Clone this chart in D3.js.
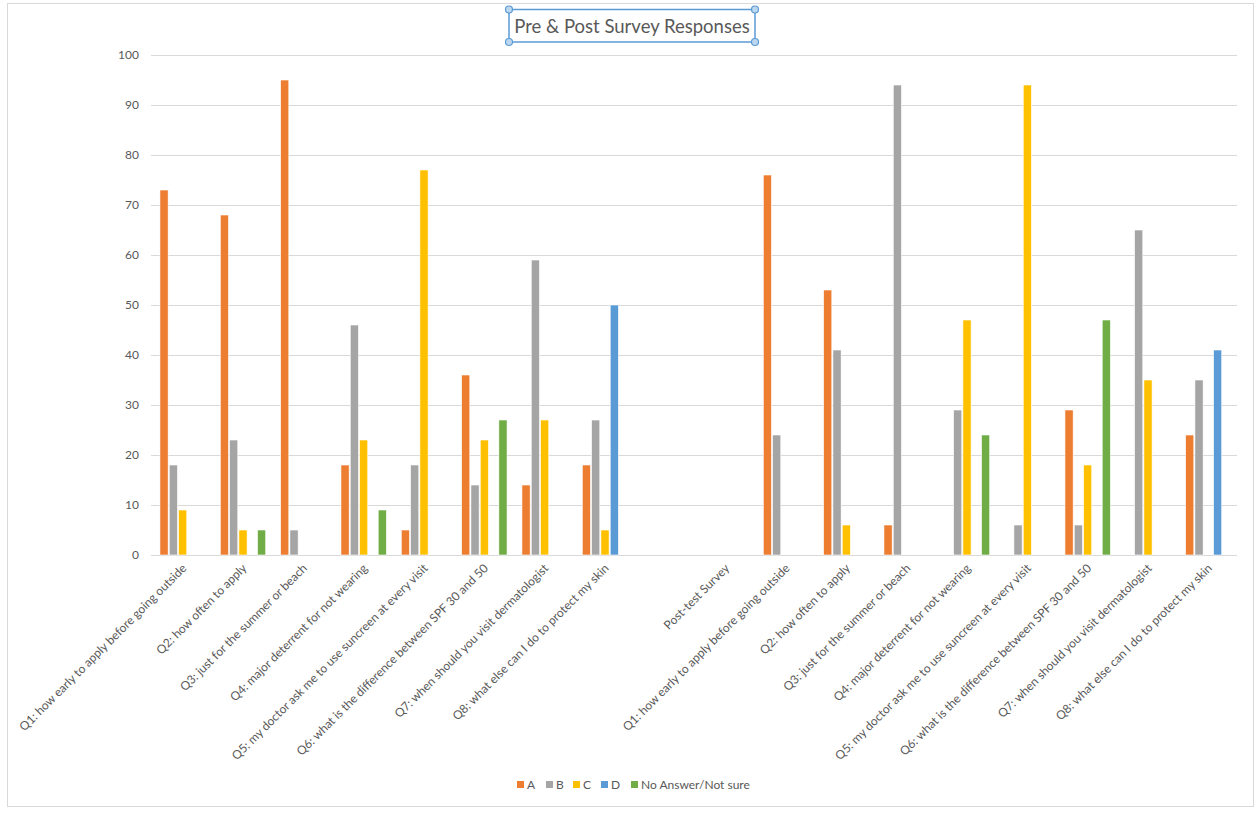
<!DOCTYPE html>
<html>
<head>
<meta charset="utf-8">
<script src="https://cdn.jsdelivr.net/npm/d3@7"></script>
<style>
  body { margin: 0; background: #fff; }
  text { font-family: Lato, "Open Sans", sans-serif; fill: #595959; }
</style>
</head>
<body>
<svg id="chart" width="1259" height="815"></svg>
<script>
// categories, pre block, blank spacer, post header, post block
const categories = [
  "Q1: how early to apply before going outside",
  "Q2: how often to apply",
  "Q3: just for the summer or beach",
  "Q4: major deterrent for not wearing",
  "Q5: my doctor ask me to use suncreen at every visit",
  "Q6: what is the difference between SPF 30 and 50",
  "Q7: when should you visit dermatologist",
  "Q8: what else can I do to protect my skin",
  "",
  "Post-test  Survey",
  "Q1: how early to apply before going outside",
  "Q2: how often to apply",
  "Q3: just for the summer or beach",
  "Q4: major deterrent for not wearing",
  "Q5: my doctor ask me to use suncreen at every visit",
  "Q6: what is the difference between SPF 30 and 50",
  "Q7: when should you visit dermatologist",
  "Q8: what else can I do to protect my skin"
];
const seriesNames = ["A", "B", "C", "D", "No Answer/Not sure"];
const seriesColors = ["#ED7D31", "#A5A5A5", "#FFC000", "#5B9BD5", "#70AD47"];

const valuesA  = [73, 68, 95, 18,  5, 36, 14, 18, 0, 0, 76, 53,  6,  0,  0, 29,  0, 24];
const valuesB  = [18, 23,  5, 46, 18, 14, 59, 27, 0, 0, 24, 41, 94, 29,  6,  6, 65, 35];
const valuesC  = [ 9,  5,  0, 23, 77, 23, 27,  5, 0, 0,  0,  6,  0, 47, 94, 18, 35,  0];
const valuesD  = [ 0,  0,  0,  0,  0,  0,  0, 50, 0, 0,  0,  0,  0,  0,  0,  0,  0, 41];
const valuesNA = [ 0,  5,  0,  9,  0, 27,  0,  0, 0, 0,  0,  0,  0, 24,  0, 47,  0,  0];
const seriesValues = [valuesA, valuesB, valuesC, valuesD, valuesNA];

const yTicks = [0, 10, 20, 30, 40, 50, 60, 70, 80, 90, 100];

const svg = d3.select("#chart");

// chart frame
svg.append("rect")
  .attr("x", 7.5).attr("y", 3.5)
  .attr("width", 1246).attr("height", 803)
  .attr("fill", "#fff").attr("stroke", "#D9D9D9");

const plot = { left: 151, right: 1237, top: 55, bottom: 555 };

const x = d3.scaleBand()
  .domain(d3.range(categories.length))
  .range([plot.left, plot.right])
  .paddingInner(0).paddingOuter(0);

const xInner = d3.scaleBand()
  .domain(d3.range(seriesNames.length))
  .range([1.5, x.bandwidth() + 1.5])
  .paddingOuter(0.8)
  .paddingInner(0.12);

const y = d3.scaleLinear().domain([0, 100]).range([plot.bottom, plot.top]);

// gridlines
svg.append("g")
  .selectAll("line")
  .data(yTicks)
  .join("line")
  .attr("x1", plot.left).attr("x2", plot.right)
  .attr("y1", d => Math.round(y(d)) + 0.5)
  .attr("y2", d => Math.round(y(d)) + 0.5)
  .attr("stroke", "#D9D9D9");

// y axis labels
const yAxis = d3.axisLeft(y).tickValues(yTicks).tickSize(0).tickPadding(12);
svg.append("g")
  .attr("transform", `translate(${plot.left},0)`)
  .call(yAxis)
  .call(g => g.select(".domain").remove())
  .selectAll("text")
  .style("font-size", "12px")
  .attr("fill", "#595959");

// bars
const groups = svg.append("g")
  .selectAll("g")
  .data(categories.map((c, i) => i))
  .join("g")
  .attr("transform", i => `translate(${x(i)},0)`);

groups.selectAll("rect")
  .data(i => seriesValues.map((vals, s) => ({ s: s, v: vals[i] })).filter(d => d.v > 0))
  .join("rect")
  .attr("x", d => xInner(d.s))
  .attr("width", xInner.bandwidth())
  .attr("y", d => y(d.v))
  .attr("height", d => y(0) - y(d.v))
  .attr("fill", d => seriesColors[d.s])
  .attr("stroke", "#fff")
  .attr("stroke-width", 0.6);

// x labels
svg.append("g")
  .selectAll("text")
  .data(categories.map((c, i) => ({ c: c, i: i })))
  .join("text")
  .attr("transform", d => `translate(${x(d.i) + x.bandwidth() / 2 + 3},566) rotate(-45)`)
  .attr("text-anchor", "end")
  .attr("dy", "0.35em")
  .style("font-size", "12px")
  .text(d => d.c);

// title with selection box
svg.append("text")
  .attr("x", 632).attr("y", 33)
  .attr("text-anchor", "middle")
  .style("font-size", "18.5px")
  .text("Pre & Post Survey Responses");

const box = { x0: 509, y0: 9.5, x1: 755, y1: 42 };
svg.append("rect")
  .attr("x", box.x0).attr("y", box.y0)
  .attr("width", box.x1 - box.x0).attr("height", box.y1 - box.y0)
  .attr("fill", "none").attr("stroke", "#5B9BD5").attr("stroke-width", 1.5);
svg.append("g")
  .selectAll("circle")
  .data([[box.x0, box.y0], [box.x1, box.y0], [box.x0, box.y1], [box.x1, box.y1]])
  .join("circle")
  .attr("cx", d => d[0]).attr("cy", d => d[1]).attr("r", 3.5)
  .attr("fill", "#BDD7EE").attr("stroke", "#5B9BD5").attr("stroke-width", 1.2);

// legend
const legendX = [517, 546, 573, 601, 631];
const legend = svg.append("g")
  .selectAll("g")
  .data(seriesNames.map((n, i) => ({ n: n, i: i })))
  .join("g")
  .attr("transform", d => `translate(${legendX[d.i]},781)`);
legend.append("rect")
  .attr("width", 7).attr("height", 7)
  .attr("fill", d => seriesColors[d.i]);
legend.append("text")
  .attr("x", 10).attr("y", 4)
  .attr("dy", "0.35em")
  .style("font-size", "12px")
  .text(d => d.n);
</script>
</body>
</html>
